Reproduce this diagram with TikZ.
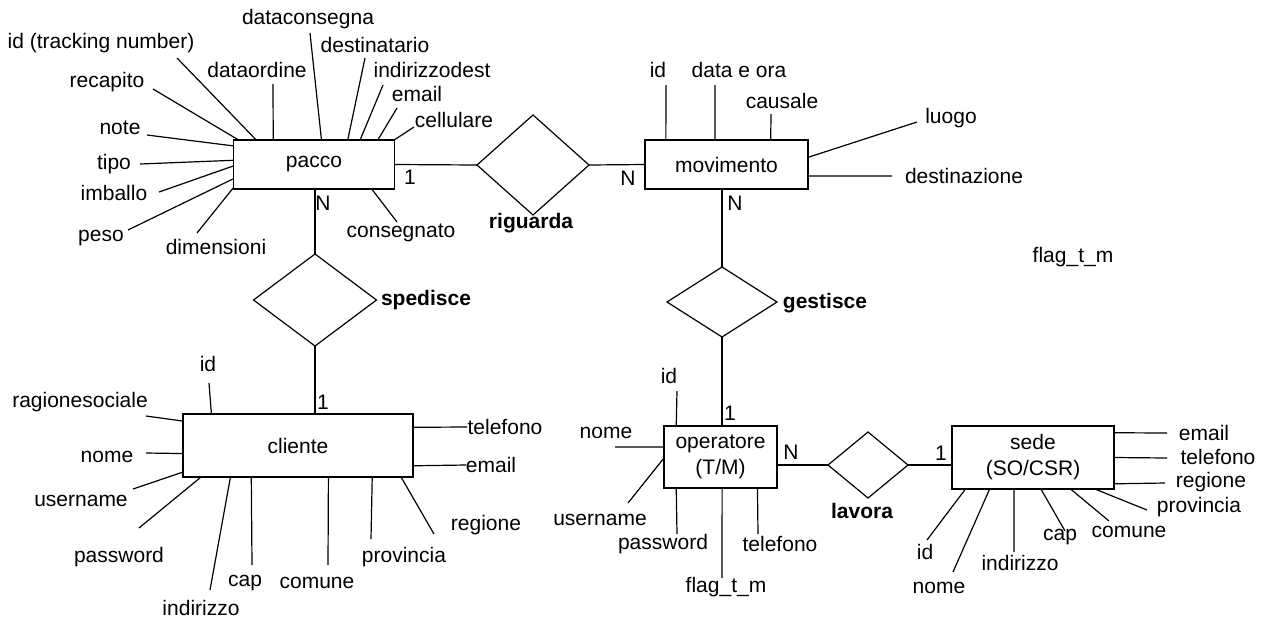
\documentclass[tikz,border=0pt]{standalone}
\usepackage{fontspec}
\setmainfont{Liberation Sans}
\usetikzlibrary{shapes.geometric}

\newcommand{\erfont}{\fontsize{21}{26}\selectfont}
\tikzset{
  entity/.style={draw,rectangle,inner sep=0pt,outer sep=0pt,align=center},
  relation/.style={draw,diamond,inner sep=0pt,outer sep=0pt},
  attr/.style={inner sep=0pt},
  card/.style={inner sep=0pt},
  rellabel/.style={inner sep=0pt,font=\erfont\bfseries}
}

\begin{document}
\begin{tikzpicture}[x=1pt,y=-1pt,line width=1.2pt,font=\erfont]
\useasboundingbox (0,0) rectangle (1265,622);

% entities
\node[entity,minimum width=161pt,minimum height=49pt] (pacco) at (314,164.5) {pacco};
\node[entity,minimum width=163pt,minimum height=49pt] (movimento) at (726.5,164.5) {movimento};
\node[entity,minimum width=230pt,minimum height=63pt] (cliente) at (298,445.5) {cliente};
\node[entity,minimum width=113pt,minimum height=62pt] (operatore) at (720.5,457) {operatore\\(T/M)};
\node[entity,minimum width=162pt,minimum height=63pt] (sede) at (1033,457.5) {sede\\(SO/CSR)};

% relationships
\node[relation,minimum width=112pt,minimum height=100pt] (riguarda) at (533,165) {};
\node[relation,minimum width=123pt,minimum height=92pt] (spedisce) at (315,300) {};
\node[relation,minimum width=110pt,minimum height=70pt] (gestisce) at (722,302) {};
\node[relation,minimum width=80pt,minimum height=66pt] (lavora) at (868,465) {};
\node[rellabel] (riguardaL) at (531,223) {riguarda};
\node[rellabel] (spedisceL) at (426,300) {spedisce};
\node[rellabel] (gestisceL) at (825,303) {gestisce};
\node[rellabel] (lavoraL) at (862,511) {lavora};

\draw (pacco.east) -- (riguarda.west);
\draw (riguarda.east) -- (movimento.west);
\draw (spedisce.north |- pacco.south) -- (spedisce.north);
\draw (spedisce.south) -- (spedisce.south |- cliente.north);
\draw (gestisce.north |- movimento.south) -- (gestisce.north);
\draw (gestisce.south) -- (gestisce.south |- operatore.north);
\draw (operatore.east |- lavora.west) -- (lavora.west);
\draw (lavora.east) -- (lavora.east -| sede.west);

% cardinalities
\node[card] (c1) at (410,177) {1};
\node[card] (c2) at (628,178) {N};
\node[card] (c3) at (323,203) {N};
\node[card] (c4) at (323,402) {1};
\node[card] (c5) at (735,203) {N};
\node[card] (c6) at (730,413) {1};
\node[card] (c7) at (791,452) {N};
\node[card] (c8) at (941,453) {1};

% attributes: entity/name/text/label x/label y/line x/line y/anchor
\foreach \ent/\nm/\txt/\lx/\ly/\ex/\ey/\ang in {
  pacco/id/{id (tracking number)}/101/43/177/58/157,
  pacco/recapito/recapito/107/82/153/89/162,
  pacco/dataordine/dataordine/257/70/273/84/149,
  pacco/dataconsegna/dataconsegna/308/19/310/33/73,
  pacco/destinatario/destinatario/375/45/365/58/36,
  pacco/indirizzodest/indirizzodest/432/70/383/85/28,
  pacco/email/email/417/94/397/108/21,
  pacco/cellulare/cellulare/454/120/414/127/17,
  pacco/note/note/120/128/147/135/167,
  pacco/tipo/tipo/114/164/140/164/177,
  pacco/imballo/imballo/114/193/159/192/181,
  pacco/peso/peso/101/238/128/230/190,
  pacco/dimensioni/dimensioni/216/247/197/233/196,
  pacco/consegnato/consegnato/401/233/397/222/337,
  movimento/id/id/658/70/666/85/158,
  movimento/data/{data e ora}/739/70/715/85/115,
  movimento/causale/causale/782/101/771/114/29,
  movimento/luogo/luogo/951/118/917/122/5,
  movimento/destinazione/destinazione/964/176/892/176/352,
  operatore/id/id/669/376/677/391/145,
  operatore/nome/nome/606/433/615/447/170,
  operatore/username/username/600/520/628/503/181,
  operatore/password/password/663/544/677/534/215,
  operatore/flag/{flag\_t\_m}/726/587/722/578/273,
  operatore/telefono/telefono/780/544/758/534/320,
  sede/email/email/1204/433/1167/433/17,
  sede/telefono/telefono/1218/457/1167/458/0,
  sede/regione/regione/1211/482/1165/483/342,
  sede/provincia/provincia/1199/507/1147/510/333,
  sede/comune/comune/1129/532/1109/521/320,
  sede/cap/cap/1060/537/1065/531/284,
  sede/indirizzo/indirizzo/1020/563/1014/552/239,
  sede/nome/nome/939/588/953/572/216,
  sede/id/id/925/552/927/540/205,
  cliente/id/id/208/364/209/383/160,
  cliente/ragionesociale/ragionesociale/80/402/146/416/168,
  cliente/nome/nome/107/457/146/453/184,
  cliente/username/username/81/501/133/489/193,
  cliente/password/password/119/557/139/528/198,
  cliente/indirizzo/indirizzo/201/608/210/590/205,
  cliente/cap/cap/245/583/252/565/214,
  cliente/comune/comune/317/583/328/565/314,
  cliente/provincia/provincia/404/557/371/539/337,
  cliente/regione/regione/486/525/434/534/343,
  cliente/telefono/telefono/505/427/467/427/9,
  cliente/email/email/491/465/466/465/350}{
  \node[attr] (\ent-\nm) at (\lx,\ly) {\txt};
  \coordinate (\ent-\nm-end) at (\ex,\ey);
  \draw (\ent-\nm-end) -- (\ent.\ang);
}

% loose label
\node[attr] (flagNote) at (1073,257) {flag\_t\_m};
\end{tikzpicture}
\end{document}
